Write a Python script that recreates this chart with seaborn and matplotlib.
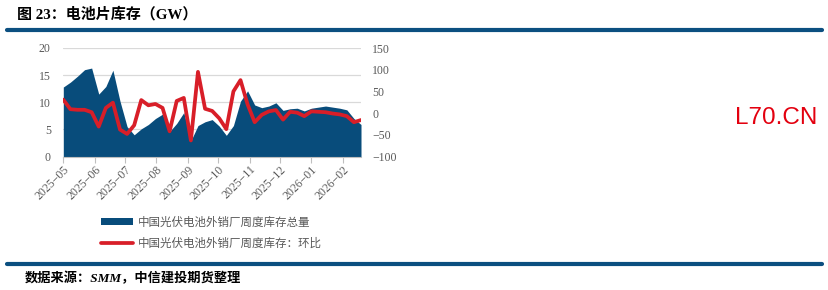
import matplotlib
matplotlib.use('Agg')
import matplotlib.pyplot as plt
import matplotlib.dates as mdates
from matplotlib.ticker import FuncFormatter
from matplotlib.lines import Line2D
from matplotlib.patches import Patch
import seaborn as sns
import pandas as pd

# ---------------- data ----------------
dates = pd.date_range('2025-05-01', periods=43, freq='7D')
inventory = [12.8, 13.7, 14.8, 16.0, 16.3, 11.5, 12.9, 15.9, 10.2, 5.5,
             4.0, 5.1, 5.9, 7.0, 7.8, 4.6, 6.1, 8.1, 2.9, 5.7,
             6.4, 6.8, 5.6, 3.9, 5.7, 10.2, 12.1, 9.5, 9.0, 9.3,
             9.9, 8.5, 8.8, 8.9, 8.4, 8.9, 9.1, 9.3, 9.1, 8.9,
             8.6, 7.0, 5.9]
wow_change = [31, 9, 7.6, 7.6, 2, -31, 12, 24, -38, -48,
              -28, 30, 18, 21, 12, -42, 28, 35, -63, 95,
              10, 5, -12, -37, 50, 76, 20, -21, -4, 4,
              7, -15, 3, 1, -7, 4, 3, 2, -1, -3,
              -7, -21, -16]
series_names = ['中国光伏电池外销厂周度库存总量', '中国光伏电池外销厂周度库存：环比']
left_ticks = [0, 5, 10, 15, 20]
right_ticks = [-100, -50, 0, 50, 100, 150]
title_text = '图 23：电池片库存（GW）'
source_text = '数据来源：SMM，中信建投期货整理'
watermark_text = 'L70.CN'

df = pd.DataFrame({'date': dates, 'inventory': inventory, 'wow': wow_change})

# ---------------- style ----------------
sns.set_theme(style='white')
plt.rcParams['font.family'] = ['Liberation Serif', 'Noto Sans CJK SC', 'DejaVu Sans']
plt.rcParams['axes.unicode_minus'] = True

BLUE = '#084C7B'
BAR = '#0B4F80'
RED = '#D81E28'
GRAY_TXT = '#595959'
GRID = '#D9D9D9'

W, H = 829, 290
fig = plt.figure(figsize=(W / 100, H / 100), dpi=100)

x0, x1 = 63.3, 361.0
y_top, y_bot = 48.0, 156.5
ax = fig.add_axes([x0 / W, 1 - y_bot / H, (x1 - x0) / W, (y_bot - y_top) / H])

ax.fill_between(df['date'], df['inventory'], 0, color=BLUE, linewidth=0, zorder=2)
ax.set_ylim(0, 20)
ax.set_yticks(left_ticks)
ax.set_xlim(dates[0], dates[-1])
ax.set_axisbelow(True)
ax.grid(axis='y', color=GRID, linewidth=0.9, zorder=0)
ax.grid(axis='x', visible=False)
for s in ['top', 'right', 'left']:
    ax.spines[s].set_visible(False)
ax.spines['bottom'].set_color('#BFBFBF')
ax.spines['bottom'].set_linewidth(0.8)

ax.xaxis.set_major_locator(mdates.MonthLocator())
ax.xaxis.set_major_formatter(FuncFormatter(
    lambda v, p: mdates.num2date(v).strftime('%Y-%m').replace('-', '\u2212')))
ax.tick_params(axis='x', direction='out', length=4, width=0.8, color='#BFBFBF',
               labelsize=8.5, labelcolor=GRAY_TXT, pad=1, bottom=True)
for lab in ax.get_xticklabels():
    lab.set_rotation(45)
    lab.set_ha('right')
    lab.set_rotation_mode('anchor')
ax.tick_params(axis='y', length=0, labelsize=8.5, labelcolor=GRAY_TXT, pad=9)
ax.set_xlabel('')
ax.set_ylabel('')

ax2 = ax.twinx()
sns.lineplot(data=df, x='date', y='wow', ax=ax2, color=RED, linewidth=2.7, zorder=3)
ax2.set_ylim(-100, 150)
ax2.set_yticks(right_ticks)
ax2.tick_params(axis='y', length=0, labelsize=8.5, labelcolor=GRAY_TXT, pad=8)
for s in ['top', 'right', 'left', 'bottom']:
    ax2.spines[s].set_visible(False)
ax2.set_xlabel('')
ax2.set_ylabel('')
ax2.grid(False)
ax2.set_xlim(dates[0], dates[-1])

# ---------------- legend ----------------
handles = [Patch(facecolor=BLUE, edgecolor='none'),
           Line2D([0], [0], color=RED, linewidth=2.7)]
fig.legend(handles, series_names, loc='center left',
           bbox_to_anchor=(101.5 / W, 1 - 233 / H), frameon=False,
           prop={'family': ['Noto Sans CJK SC'], 'size': 8.3},
           labelcolor=GRAY_TXT, handlelength=2.7, handleheight=0.55,
           handletextpad=0.45, labelspacing=0.7, borderpad=0, borderaxespad=0)

# ---------------- header / footer ----------------
fig.text(17 / W, 1 - 14.5 / H, title_text, fontsize=10.8, fontweight='bold',
         ha='left', va='center', color='black',
         family=['Liberation Serif', 'Noto Sans CJK SC'])
fig.add_artist(Line2D([7 / W, 822 / W], [1 - 29.5 / H] * 2, color=BAR, linewidth=3.0))
fig.add_artist(Line2D([7 / W, 822 / W], [1 - 264 / H] * 2, color=BAR, linewidth=3.0))
fig.text(25 / W, 1 - 278.5 / H, source_text, fontsize=9.5, fontweight='bold',
         style='italic', ha='left', va='center', color='black',
         family=['Liberation Serif', 'Noto Sans CJK SC'])
fig.text(776 / W, 1 - 118 / H, watermark_text, fontsize=17.5, color='#E3000F',
         ha='center', va='center', family=['Liberation Sans'])

fig.savefig('out.png', dpi=100)
